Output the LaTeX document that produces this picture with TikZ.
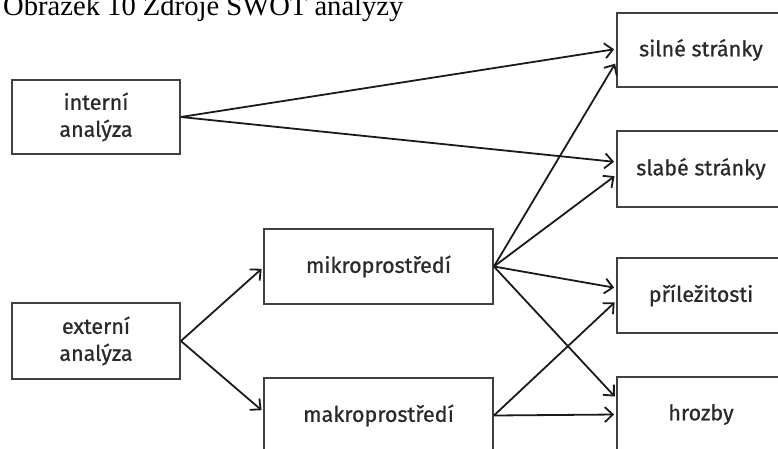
\documentclass[tikz,border=0pt]{standalone}
\usepackage{fontspec}
\setmainfont{Fira Sans}
\newfontfamily\boxfont{Fira Sans}[FakeBold=0.8]
\newfontfamily\titlefont{Liberation Serif}
\usetikzlibrary{arrows.meta}
\definecolor{boxline}{HTML}{404040}
\definecolor{txt}{HTML}{2A2A2A}
\definecolor{arr}{HTML}{1A1A1A}
\begin{document}
\begin{tikzpicture}[x=1pt,y=-1pt,
  box/.style={draw=boxline, line width=1.8pt, rectangle, minimum width=168pt,
    inner sep=0pt, align=center, text=txt,
    font=\boxfont\fontsize{21.5}{27}\selectfont},
  wbox/.style={box, minimum width=229pt, minimum height=75pt},
  conn/.style={draw=arr, line width=1.8pt, shorten >=2pt,
    -{Straight Barb[length=8pt,width=15pt,line width=1.8pt]}}]
\clip (0,0) rectangle (778,449);
\useasboundingbox (0,0) rectangle (778,449);
\node[anchor=base west, inner sep=0pt, font=\titlefont\fontsize{28.6}{30}\selectfont, text=black] (title) at (3,16) {Obrázek 10 Zdroje SWOT analýzy};
\node[box, minimum height=74pt] (int) at (96,117) {interní\\analýza};
\node[box, minimum height=76pt] (ext) at (96,341) {externí\\analýza};
\node[wbox] (mikro) at (378.5,266.5) {mikroprostředí};
\node[wbox] (makro) at (378.5,415.5) {makroprostředí};
\node[box, minimum height=74pt] (silne) at (701,50) {silné stránky};
\node[box, minimum height=76pt] (slabe) at (701,169) {slabé stránky};
\node[box, minimum height=75pt] (prilez) at (701,295.5) {příležitosti};
\node[box, minimum height=75pt] (hrozby) at (701,414.5) {hrozby};
\draw[conn] (int.east) -- ([yshift=1pt]silne.west);
\draw[conn] (int.east) -- ([yshift=7pt]slabe.west);
\draw[conn] (ext.east) -- ([yshift=-1pt]mikro.west);
\draw[conn] (ext.east) -- ([yshift=4pt]makro.west);
\draw[conn] (mikro.east) -- ([yshift=-12pt]silne.west);
\draw[conn] (mikro.east) -- ([yshift=-6pt]slabe.west);
\draw[conn] (mikro.east) -- ([yshift=7.5pt]prilez.west);
\draw[conn] (mikro.east) -- ([yshift=16.5pt]hrozby.west);
\draw[conn] (makro.east) -- ([yshift=-5.5pt]prilez.west);
\draw[conn] (makro.east) -- (hrozby.west);
\end{tikzpicture}
\end{document}
